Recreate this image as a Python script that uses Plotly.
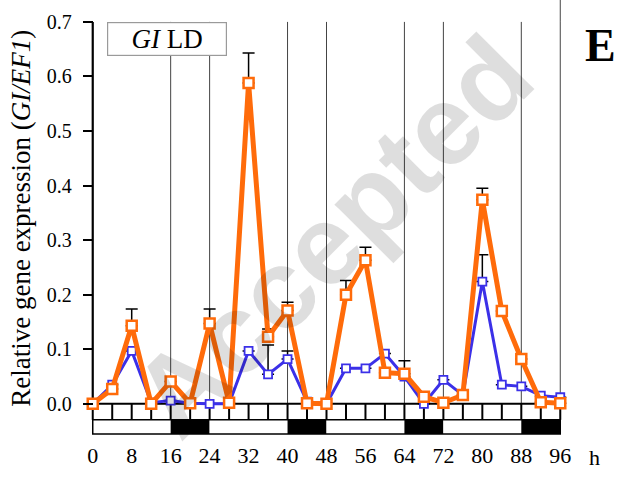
import plotly.graph_objects as go

# ---------------- data ----------------
hours = list(range(0, 97, 4))
ld_orange = [0.000, 0.027, 0.143, 0.000, 0.041, 0.001, 0.147, 0.002, 0.588, 0.123,
             0.171, 0.001, 0.000, 0.200, 0.263, 0.057, 0.055, 0.013, 0.002, 0.016,
             0.374, 0.170, 0.082, 0.003, 0.001]
ld_orange_err = [None, None, 0.031, None, None, None, 0.027, None, 0.055, 0.014,
                 0.015, None, None, 0.026, 0.024, None, 0.024, None, None, None,
                 0.021, None, None, None, None]
ld_blue = [0.000, 0.035, 0.097, 0.002, 0.006, 0.001, 0.000, 0.000, 0.097, 0.054,
           0.082, 0.004, 0.000, 0.065, 0.065, 0.092, 0.050, 0.000, 0.044, 0.016,
           0.224, 0.035, 0.032, 0.015, 0.012]
ld_blue_err = [None, None, None, None, None, None, None, None, None, 0.054,
               0.015, None, None, None, None, None, None, None, None, None,
               0.049, None, None, None, None]
dark_periods = [(16, 24), (40, 48), (64, 72), (88, 96)]
x_ticks = list(range(0, 97, 8))
y_ticks = [0.0, 0.1, 0.2, 0.3, 0.4, 0.5, 0.6, 0.7]

ORANGE = "#ff6b0a"
BLUE = "#3b30e8"
FONT = "Liberation Serif, Times New Roman, serif"

T0, T1 = hours[0], hours[-1]
Y_TOP = y_ticks[-1]
ROW_BOT = -0.0293
BAR_BOT = -0.0555
X_RANGE = [-2, 98]
Y_RANGE = [-0.07, 0.72]

fig = go.Figure()

fig.add_trace(go.Scatter(
    x=hours, y=ld_blue, mode="lines+markers", cliponaxis=False,
    line=dict(color=BLUE, width=3),
    marker=dict(symbol="square", size=8, color="white", line=dict(color=BLUE, width=1.8)),
    error_y=dict(type="data", symmetric=False, array=ld_blue_err,
                 arrayminus=[0 if e is not None else None for e in ld_blue_err],
                 color="black", thickness=1.5, width=6),
    showlegend=False,
))
fig.add_trace(go.Scatter(
    x=hours, y=ld_orange, mode="lines+markers", cliponaxis=False,
    line=dict(color=ORANGE, width=5),
    marker=dict(symbol="square", size=10, color="white", line=dict(color=ORANGE, width=2.5)),
    error_y=dict(type="data", symmetric=False, array=ld_orange_err,
                 arrayminus=[0 if e is not None else None for e in ld_orange_err],
                 color="black", thickness=1.5, width=6),
    showlegend=False,
))

shapes = []
bounds = sorted(set([b for p in dark_periods for b in p]))
for b in bounds:
    shapes.append(dict(type="line", xref="x", yref="y", x0=b, x1=b, y0=0, y1=Y_TOP,
                       line=dict(color="#444444", width=1), layer="below"))
y_top_paper = (Y_TOP - Y_RANGE[0]) / (Y_RANGE[1] - Y_RANGE[0])
shapes.append(dict(type="line", xref="x", yref="paper", x0=T1, x1=T1, y0=y_top_paper, y1=1.05,
                   line=dict(color="#444444", width=1), layer="below"))
prev = T0
for (s, e) in dark_periods:
    if s > prev:
        shapes.append(dict(type="rect", xref="x", yref="y", x0=prev, x1=s, y0=BAR_BOT, y1=ROW_BOT,
                           fillcolor="white", line=dict(width=0), layer="below"))
    shapes.append(dict(type="rect", xref="x", yref="y", x0=s, x1=e, y0=BAR_BOT, y1=ROW_BOT,
                       fillcolor="black", line=dict(width=0), layer="below"))
    prev = e
shapes.append(dict(type="rect", xref="x", yref="y", x0=T0, x1=T1, y0=BAR_BOT, y1=ROW_BOT,
                   fillcolor="rgba(0,0,0,0)", line=dict(color="black", width=1.5), layer="below"))
for h in hours:
    shapes.append(dict(type="line", xref="x", yref="y", x0=h, x1=h, y0=0, y1=ROW_BOT,
                       line=dict(color="black", width=2), layer="below"))
shapes.append(dict(type="line", xref="x", yref="y", x0=T0, x1=T1, y0=0, y1=0,
                   line=dict(color="black", width=2), layer="below"))
shapes.append(dict(type="line", xref="x", yref="y", x0=T0, x1=T0, y0=0, y1=Y_TOP,
                   line=dict(color="black", width=2.2), layer="below"))

y_axis_pos = (T0 - X_RANGE[0]) / (X_RANGE[1] - X_RANGE[0])

fig.update_layout(
    width=618, height=477,
    margin=dict(l=82.56, r=48.26, t=11.09, b=34.8, autoexpand=False),
    paper_bgcolor="white", plot_bgcolor="white",
    shapes=shapes,
    xaxis=dict(range=X_RANGE, tickvals=x_ticks, ticks="", showgrid=False, zeroline=False,
               showline=False, automargin=False,
               tickfont=dict(family=FONT, size=22, color="black"),
               ticklabelstandoff=-2),
    yaxis=dict(range=Y_RANGE, tickvals=y_ticks, tickformat=".1f", ticks="outside",
               ticklen=10, tickwidth=2, tickcolor="black", showgrid=False, zeroline=False,
               showline=False, automargin=False, anchor="free", position=y_axis_pos,
               tickfont=dict(family=FONT, size=20, color="black"),
               ticklabelstandoff=7),
    annotations=[
        dict(text="Accepted", textangle=-45, xref="paper", yref="paper",
             x=(332 - 82.56) / 487.18, y=1 - (236 - 11.09) / 431.1,
             xanchor="center", yanchor="middle", showarrow=False,
             font=dict(family="Liberation Sans", size=113, weight="bold",
                       color="rgba(0,0,0,0.13)")),
        dict(text="Relative gene expression (<i>GI/EF1</i>)", textangle=-90,
             xref="paper", yref="paper", x=-0.1264, y=0.5189, xanchor="center",
             yanchor="middle", showarrow=False,
             font=dict(family=FONT, size=27, color="black")),
        dict(text="<i>GI</i> LD", xref="paper", yref="paper", x=0.1719, y=0.9353,
             xanchor="center", yanchor="middle",
             showarrow=False, font=dict(family=FONT, size=27, color="black"),
             bgcolor="white", bordercolor="#9a9a9a", borderwidth=1.2,
             width=116, height=30, borderpad=1),
        dict(text="<b>E</b>", xref="paper", yref="paper", x=1.062, y=0.92,
             xanchor="center", yanchor="middle",
             showarrow=False, font=dict(family=FONT, size=46, color="black")),
        dict(text="h", xref="paper", yref="paper", x=1.0498, y=-0.0367,
             xanchor="center", yanchor="middle",
             showarrow=False, font=dict(family=FONT, size=22, color="black")),
    ],
)

fig.write_html("out.html")
